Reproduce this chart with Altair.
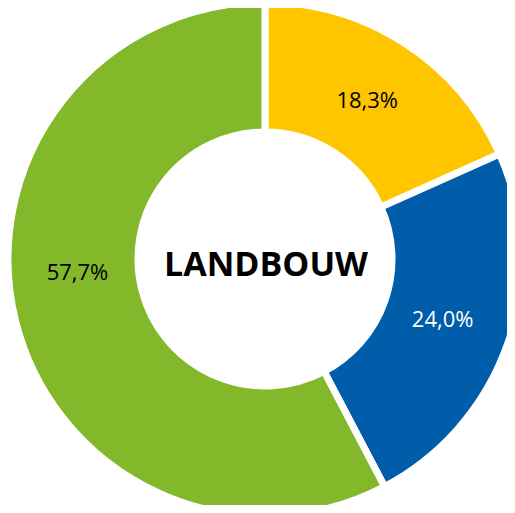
import altair as alt
import pandas as pd

segmenten = ["Segment 1", "Segment 2", "Segment 3"]
aandelen = [18.3, 24.0, 57.7]
labels = ["18,3%", "24,0%", "57,7%"]
kleuren = ["#FFC600", "#005DAA", "#82B82A"]
tekstkleuren = ["#000000", "#FFFFFF", "#000000"]
titel = "LANDBOUW"

df = pd.DataFrame({
    "segment": segmenten,
    "aandeel": aandelen,
    "label": labels,
    "volgorde": list(range(len(segmenten))),
    "tekstkleur": tekstkleuren,
})

cx, cy = 257, 251

base = alt.Chart(df).encode(
    theta=alt.Theta("aandeel:Q", stack=True),
    order=alt.Order("volgorde:Q"),
)

arcs = base.mark_arc(
    outerRadius=257, innerRadius=127, stroke="white", strokeWidth=7
).encode(
    color=alt.Color("segment:N", scale=alt.Scale(domain=segmenten, range=kleuren), legend=None),
    x=alt.value(cx), y=alt.value(cy),
)

text_enc = dict(
    text="label:N",
    color=alt.Color("tekstkleur:N", scale=None),
    x=alt.value(cx), y=alt.value(cy),
)

is_groen = alt.datum.segment == "Segment 3"

text_a = base.mark_text(radius=188, font="Open Sans", fontSize=22).encode(
    opacity=alt.condition(is_groen, alt.value(0), alt.value(1)),
    **text_enc
)

text_b = base.mark_text(radius=188, font="Open Sans", fontSize=22, dy=-31, dx=-5).encode(
    opacity=alt.condition(is_groen, alt.value(1), alt.value(0)),
    **text_enc
)

center = alt.Chart(pd.DataFrame({"t": [titel]})).mark_text(
    font="Open Sans", fontSize=34, fontWeight="bold", color="black"
).encode(text="t:N", x=alt.value(cx + 1), y=alt.value(cy + 7))

chart = alt.layer(arcs, text_a, text_b, center).properties(
    width=499, height=497,
    autosize=alt.AutoSizeParams(type="none"),
    padding=0,
).configure_view(stroke=None)

chart.save("out.html", embed_options={"renderer": "svg", "actions": False})
